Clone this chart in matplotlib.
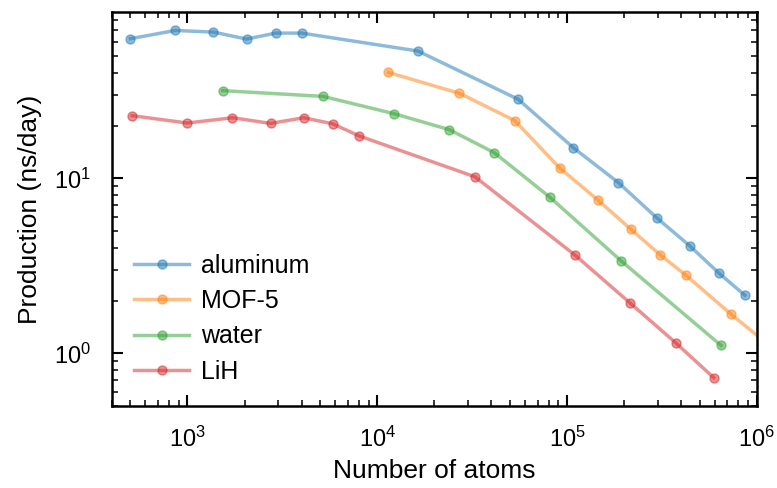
import matplotlib
matplotlib.use('Agg')
import matplotlib.pyplot as plt
from matplotlib.ticker import LogLocator, NullFormatter

# Number of atoms and production (ns/day) for each system
al_atoms = [500, 864, 1372, 2048, 2916, 4000, 16384, 55296, 108000, 186624,
            296352, 442368, 629856, 864000]
al_prod = [62.8, 70.0, 68.5, 62.5, 67.6, 67.6, 53.4, 28.3, 14.96, 9.45,
           5.96, 4.12, 2.88, 2.15]

mof_atoms = [11448, 27136, 53000, 91584, 145432, 217088, 309096, 424000,
             732672, 1163456]
mof_prod = [40.3, 30.6, 21.4, 11.45, 7.52, 5.11, 3.66, 2.79, 1.67, 1.11]

water_atoms = [1536, 5184, 12288, 24000, 41472, 81000, 192000, 648000]
water_prod = [31.7, 29.4, 23.4, 18.97, 14.0, 7.82, 3.39, 1.11]

lih_atoms = [512, 1000, 1728, 2744, 4096, 5832, 8000, 32768, 110592,
             216000, 373248, 592704]
lih_prod = [22.8, 20.7, 22.2, 20.6, 22.2, 20.5, 17.5, 10.2, 3.63, 1.93,
            1.15, 0.726]

series = [
    (al_atoms, al_prod, 'aluminum'),
    (mof_atoms, mof_prod, 'MOF-5'),
    (water_atoms, water_prod, 'water'),
    (lih_atoms, lih_prod, 'LiH'),
]

plt.rcParams['font.family'] = ['Liberation Sans', 'DejaVu Sans']
plt.rcParams['font.size'] = 17
plt.rcParams['mathtext.fontset'] = 'custom'
plt.rcParams['mathtext.rm'] = 'Liberation Sans'
plt.rcParams['mathtext.it'] = 'Liberation Sans:italic'

fig = plt.figure(figsize=(7.77, 4.88), dpi=100)
ax = fig.add_axes([0.144, 0.168, 0.830, 0.807])

for atoms, prod, label in series:
    ax.plot(atoms, prod, marker='o', markersize=6.5, linewidth=2.5,
            alpha=0.5, label=label)

ax.set_xscale('log')
ax.set_yscale('log')
ax.set_xlim(400, 1e6)
ax.set_ylim(0.5, 89)

ax.xaxis.set_minor_locator(LogLocator(base=10, subs=range(2, 10), numticks=20))
ax.yaxis.set_minor_locator(LogLocator(base=10, subs=range(2, 10), numticks=20))
ax.xaxis.set_minor_formatter(NullFormatter())
ax.yaxis.set_minor_formatter(NullFormatter())

ax.tick_params(which='both', direction='in', top=True, right=True,
               labelsize=17)
ax.tick_params(which='major', length=8, width=1.5, pad=15)
ax.tick_params(which='minor', length=4, width=1.1)
for s in ax.spines.values():
    s.set_linewidth(1.8)

ax.set_xlabel('Number of atoms', fontsize=19, labelpad=5)
ax.set_ylabel('Production (ns/day)', fontsize=19, labelpad=9)

ax.legend(loc='lower left', frameon=False, fontsize=18,
          bbox_to_anchor=(0.0, 0.0), handlelength=2.2, handletextpad=0.45,
          labelspacing=0.45)

fig.savefig('out.png', dpi=100)
